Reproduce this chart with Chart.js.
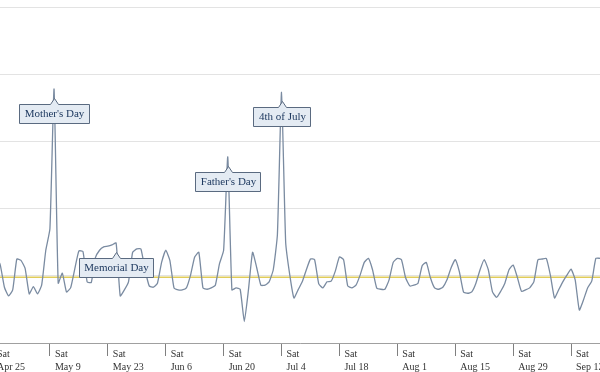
<!DOCTYPE html>
<html>
<head>
<meta charset="utf-8">
<script src="https://cdn.jsdelivr.net/npm/chart.js@4"></script>
<style>
  body { margin: 0; background: #fff; }
  #wrap { width: 600px; height: 372px; }
</style>
</head>
<body>
<div id="wrap"><canvas id="chart"></canvas></div>
<script>
// jour 0 = samedi 25 avril, une valeur par jour
const firstDay = 0;
const visits = [
  120, 128, 116, 83, 70, 79, 125, 123, 111, 73, 84, 73, 86, 138, 170, 378,
  89, 104, 76, 82, 110, 137, 136, 91, 90, 127, 138, 143, 144, 146, 149, 70,
  79, 91, 135, 140, 140, 109, 85, 83, 89, 120, 138, 123, 82, 79, 79, 82,
  101, 128, 135, 82, 80, 82, 86, 118, 138, 277, 79, 82, 80, 32, 79, 135,
  112, 86, 86, 91, 109, 161, 373, 150, 101, 67, 79, 91, 109, 125, 124, 88,
  82, 91, 92, 107, 128, 124, 85, 82, 86, 101, 120, 126, 109, 82, 80, 80,
  94, 120, 126, 124, 97, 85, 86, 89, 115, 120, 97, 82, 80, 83, 94, 112,
  124, 106, 76, 74, 76, 89, 109, 124, 109, 76, 68, 77, 89, 109, 116, 98,
  77, 79, 82, 91, 124, 125, 126, 101, 67, 79, 91, 101, 110, 94, 49, 64,
  82, 92, 126, 126
];
const averageVisits = 98;

// axe des x : un repère tous les 14 jours (samedis)
const tickDays = [0, 14, 28, 42, 56, 70, 84, 98, 112, 126, 140];
const tickDates = ["Apr 25", "May 9", "May 23", "Jun 6", "Jun 20", "Jul 4", "Jul 18", "Aug 1", "Aug 15", "Aug 29", "Sep 12"];
const tickWeekday = "Sat";
const viewStart = 1.93;
const viewEnd = 147;

// jours fériés annotés
const holidayDays = [15, 30, 57, 70];
const holidayLabels = ["Mother's Day", "Memorial Day", "Father's Day", "4th of July"];

// Plugin des bulles d'annotation
const calloutPlugin = {
  id: "callouts",
  afterDatasetsDraw(chart) {
    const meta = chart.getDatasetMeta(0);
    const ctx = chart.ctx;
    ctx.save();
    ctx.font = '11px "Liberation Serif"';
    ctx.textAlign = "center";
    ctx.textBaseline = "middle";
    holidayDays.forEach((day, i) => {
      const pt = meta.data[day - firstDay];
      const label = holidayLabels[i];
      const w = Math.round(ctx.measureText(label).width + 10);
      const h = 19;
      const cx = Math.round(pt.x) + 0.5;
      const left = Math.round(pt.x - w / 2) + 0.5;
      const top = Math.round(pt.y + 15) + 0.5;
      ctx.beginPath();
      ctx.moveTo(left, top);
      ctx.lineTo(cx - 4, top);
      ctx.lineTo(cx, top - 6);
      ctx.lineTo(cx + 4, top);
      ctx.lineTo(left + w, top);
      ctx.lineTo(left + w, top + h);
      ctx.lineTo(left, top + h);
      ctx.closePath();
      ctx.fillStyle = "#e4ebf3";
      ctx.fill();
      ctx.strokeStyle = "#5a6a80";
      ctx.lineWidth = 1;
      ctx.stroke();
      ctx.fillStyle = "#1f3a60";
      ctx.fillText(label, cx, top + h / 2 + 0.5);
    });
    ctx.restore();
  },
};

function makeChart() {
  const canvas = document.getElementById("chart");
  new Chart(canvas, {
    type: "line",
    data: {
      datasets: [
        {
          data: visits.map((v, i) => ({ x: firstDay + i, y: v })),
          borderColor: "#7a8ba1",
          borderWidth: 1.3,
          pointRadius: 0,
          tension: 0.15,
        },
        {
          data: [
            { x: viewStart, y: averageVisits },
            { x: viewEnd, y: averageVisits },
          ],
          borderColor: "#e0cc5a",
          borderWidth: 1.5,
          pointRadius: 0,
        },
      ],
    },
    options: {
      responsive: true,
      maintainAspectRatio: false,
      animation: false,
      layout: { padding: { top: 7, left: 0, right: 0, bottom: 0 } },
      plugins: {
        legend: { display: false },
        tooltip: { enabled: false },
      },
      scales: {
        x: {
          type: "linear",
          min: viewStart,
          max: viewEnd,
          afterBuildTicks: (scale) => {
            scale.ticks = tickDays.map((d) => ({ value: d }));
          },
          afterFit: (scale) => {
            scale.height = 29;
            scale.paddingLeft = 0;
            scale.paddingRight = 0;
          },
          grid: {
            drawOnChartArea: false,
            drawTicks: true,
            tickLength: 13,
            color: "#808080",
          },
          border: { display: true, color: "#a0a0a0" },
          ticks: {
            autoSkip: false,
            maxRotation: 0,
            align: "start",
            labelOffset: 5,
            padding: -8,
            color: "#333",
            font: { family: "Liberation Serif", size: 10, lineHeight: 1.3 },
            callback: (value, index) => [tickWeekday, tickDates[index]],
          },
        },
        y: {
          min: 0,
          max: 500,
          afterFit: (scale) => {
            scale.width = 0;
          },
          ticks: { display: false, stepSize: 100 },
          grid: { color: "#e3e3e3", drawTicks: false },
          border: { display: false },
        },
      },
    },
    plugins: [calloutPlugin],
  });
}

makeChart();
</script>
</body>
</html>
